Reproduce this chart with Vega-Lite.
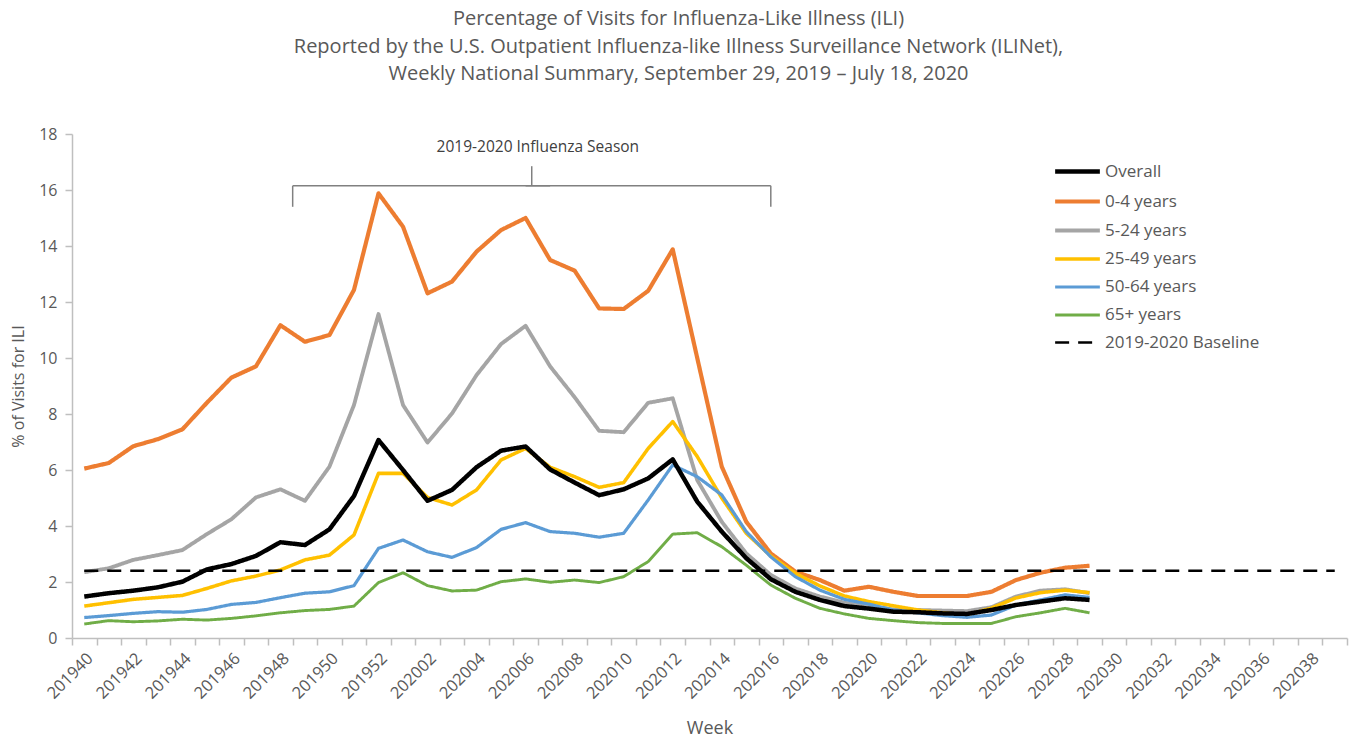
{
  "$schema": "https://vega.github.io/schema/vega-lite/v6.json",
  "width": 1275,
  "height": 504,
  "autosize": {"type": "none"},
  "padding": {"left": 72, "top": 134, "right": 10, "bottom": 102},
  "background": "white",
  "config": {"view": {"stroke": null}, "font": "Open Sans"},
  "title": {
    "text": ["Percentage of Visits for Influenza-Like Illness (ILI)", "Reported by the U.S. Outpatient Influenza-like Illness Surveillance Network (ILINet),", "Weekly National Summary, September 29, 2019 – July 18, 2020"],
    "fontSize": 20, "fontWeight": "normal", "color": "#595959", "anchor": "middle", "frame": "group", "dx": -31, "offset": 42, "lineHeight": 27.5, "font": "Open Sans"
  },
  "datasets": {
    "ili": [
      {"week":"201940","series":"0-4 years","pct":6.05},{"week":"201941","series":"0-4 years","pct":6.25},{"week":"201942","series":"0-4 years","pct":6.85},{"week":"201943","series":"0-4 years","pct":7.1},{"week":"201944","series":"0-4 years","pct":7.45},{"week":"201945","series":"0-4 years","pct":8.4},{"week":"201946","series":"0-4 years","pct":9.3},{"week":"201947","series":"0-4 years","pct":9.7},{"week":"201948","series":"0-4 years","pct":11.17},{"week":"201949","series":"0-4 years","pct":10.58},{"week":"201950","series":"0-4 years","pct":10.82},{"week":"201951","series":"0-4 years","pct":12.43},{"week":"201952","series":"0-4 years","pct":15.88},{"week":"202001","series":"0-4 years","pct":14.69},{"week":"202002","series":"0-4 years","pct":12.31},{"week":"202003","series":"0-4 years","pct":12.73},{"week":"202004","series":"0-4 years","pct":13.8},{"week":"202005","series":"0-4 years","pct":14.57},{"week":"202006","series":"0-4 years","pct":15.0},{"week":"202007","series":"0-4 years","pct":13.5},{"week":"202008","series":"0-4 years","pct":13.12},{"week":"202009","series":"0-4 years","pct":11.77},{"week":"202010","series":"0-4 years","pct":11.75},{"week":"202011","series":"0-4 years","pct":12.4},{"week":"202012","series":"0-4 years","pct":13.88},{"week":"202013","series":"0-4 years","pct":10.0},{"week":"202014","series":"0-4 years","pct":6.12},{"week":"202015","series":"0-4 years","pct":4.15},{"week":"202016","series":"0-4 years","pct":3.02},{"week":"202017","series":"0-4 years","pct":2.37},{"week":"202018","series":"0-4 years","pct":2.07},{"week":"202019","series":"0-4 years","pct":1.69},{"week":"202020","series":"0-4 years","pct":1.83},{"week":"202021","series":"0-4 years","pct":1.65},{"week":"202022","series":"0-4 years","pct":1.5},{"week":"202023","series":"0-4 years","pct":1.5},{"week":"202024","series":"0-4 years","pct":1.5},{"week":"202025","series":"0-4 years","pct":1.65},{"week":"202026","series":"0-4 years","pct":2.07},{"week":"202027","series":"0-4 years","pct":2.33},{"week":"202028","series":"0-4 years","pct":2.51},{"week":"202029","series":"0-4 years","pct":2.58},
      {"week":"201940","series":"5-24 years","pct":2.35},{"week":"201941","series":"5-24 years","pct":2.49},{"week":"201942","series":"5-24 years","pct":2.79},{"week":"201943","series":"5-24 years","pct":2.96},{"week":"201944","series":"5-24 years","pct":3.14},{"week":"201945","series":"5-24 years","pct":3.71},{"week":"201946","series":"5-24 years","pct":4.24},{"week":"201947","series":"5-24 years","pct":5.02},{"week":"201948","series":"5-24 years","pct":5.31},{"week":"201949","series":"5-24 years","pct":4.9},{"week":"201950","series":"5-24 years","pct":6.12},{"week":"201951","series":"5-24 years","pct":8.32},{"week":"201952","series":"5-24 years","pct":11.57},{"week":"202001","series":"5-24 years","pct":8.32},{"week":"202002","series":"5-24 years","pct":6.98},{"week":"202003","series":"5-24 years","pct":8.02},{"week":"202004","series":"5-24 years","pct":9.39},{"week":"202005","series":"5-24 years","pct":10.5},{"week":"202006","series":"5-24 years","pct":11.15},{"week":"202007","series":"5-24 years","pct":9.7},{"week":"202008","series":"5-24 years","pct":8.6},{"week":"202009","series":"5-24 years","pct":7.4},{"week":"202010","series":"5-24 years","pct":7.35},{"week":"202011","series":"5-24 years","pct":8.4},{"week":"202012","series":"5-24 years","pct":8.56},{"week":"202013","series":"5-24 years","pct":5.64},{"week":"202014","series":"5-24 years","pct":4.15},{"week":"202015","series":"5-24 years","pct":3.02},{"week":"202016","series":"5-24 years","pct":2.25},{"week":"202017","series":"5-24 years","pct":1.77},{"week":"202018","series":"5-24 years","pct":1.48},{"week":"202019","series":"5-24 years","pct":1.26},{"week":"202020","series":"5-24 years","pct":1.12},{"week":"202021","series":"5-24 years","pct":1.02},{"week":"202022","series":"5-24 years","pct":1.0},{"week":"202023","series":"5-24 years","pct":0.98},{"week":"202024","series":"5-24 years","pct":0.96},{"week":"202025","series":"5-24 years","pct":1.1},{"week":"202026","series":"5-24 years","pct":1.48},{"week":"202027","series":"5-24 years","pct":1.69},{"week":"202028","series":"5-24 years","pct":1.74},{"week":"202029","series":"5-24 years","pct":1.6},
      {"week":"201940","series":"25-49 years","pct":1.14},{"week":"201941","series":"25-49 years","pct":1.26},{"week":"201942","series":"25-49 years","pct":1.38},{"week":"201943","series":"25-49 years","pct":1.45},{"week":"201944","series":"25-49 years","pct":1.52},{"week":"201945","series":"25-49 years","pct":1.77},{"week":"201946","series":"25-49 years","pct":2.04},{"week":"201947","series":"25-49 years","pct":2.21},{"week":"201948","series":"25-49 years","pct":2.43},{"week":"201949","series":"25-49 years","pct":2.79},{"week":"201950","series":"25-49 years","pct":2.96},{"week":"201951","series":"25-49 years","pct":3.68},{"week":"201952","series":"25-49 years","pct":5.88},{"week":"202001","series":"25-49 years","pct":5.88},{"week":"202002","series":"25-49 years","pct":5.02},{"week":"202003","series":"25-49 years","pct":4.75},{"week":"202004","series":"25-49 years","pct":5.29},{"week":"202005","series":"25-49 years","pct":6.36},{"week":"202006","series":"25-49 years","pct":6.77},{"week":"202007","series":"25-49 years","pct":6.1},{"week":"202008","series":"25-49 years","pct":5.76},{"week":"202009","series":"25-49 years","pct":5.38},{"week":"202010","series":"25-49 years","pct":5.55},{"week":"202011","series":"25-49 years","pct":6.77},{"week":"202012","series":"25-49 years","pct":7.73},{"week":"202013","series":"25-49 years","pct":6.48},{"week":"202014","series":"25-49 years","pct":5.0},{"week":"202015","series":"25-49 years","pct":3.74},{"week":"202016","series":"25-49 years","pct":2.93},{"week":"202017","series":"25-49 years","pct":2.31},{"week":"202018","series":"25-49 years","pct":1.86},{"week":"202019","series":"25-49 years","pct":1.5},{"week":"202020","series":"25-49 years","pct":1.3},{"week":"202021","series":"25-49 years","pct":1.15},{"week":"202022","series":"25-49 years","pct":1.0},{"week":"202023","series":"25-49 years","pct":0.9},{"week":"202024","series":"25-49 years","pct":0.82},{"week":"202025","series":"25-49 years","pct":1.07},{"week":"202026","series":"25-49 years","pct":1.43},{"week":"202027","series":"25-49 years","pct":1.62},{"week":"202028","series":"25-49 years","pct":1.71},{"week":"202029","series":"25-49 years","pct":1.62},
      {"week":"201940","series":"50-64 years","pct":0.73},{"week":"201941","series":"50-64 years","pct":0.8},{"week":"201942","series":"50-64 years","pct":0.88},{"week":"201943","series":"50-64 years","pct":0.94},{"week":"201944","series":"50-64 years","pct":0.92},{"week":"201945","series":"50-64 years","pct":1.02},{"week":"201946","series":"50-64 years","pct":1.2},{"week":"201947","series":"50-64 years","pct":1.27},{"week":"201948","series":"50-64 years","pct":1.44},{"week":"201949","series":"50-64 years","pct":1.6},{"week":"201950","series":"50-64 years","pct":1.65},{"week":"201951","series":"50-64 years","pct":1.87},{"week":"201952","series":"50-64 years","pct":3.2},{"week":"202001","series":"50-64 years","pct":3.5},{"week":"202002","series":"50-64 years","pct":3.08},{"week":"202003","series":"50-64 years","pct":2.88},{"week":"202004","series":"50-64 years","pct":3.23},{"week":"202005","series":"50-64 years","pct":3.88},{"week":"202006","series":"50-64 years","pct":4.12},{"week":"202007","series":"50-64 years","pct":3.8},{"week":"202008","series":"50-64 years","pct":3.74},{"week":"202009","series":"50-64 years","pct":3.6},{"week":"202010","series":"50-64 years","pct":3.74},{"week":"202011","series":"50-64 years","pct":4.93},{"week":"202012","series":"50-64 years","pct":6.18},{"week":"202013","series":"50-64 years","pct":5.76},{"week":"202014","series":"50-64 years","pct":5.11},{"week":"202015","series":"50-64 years","pct":3.8},{"week":"202016","series":"50-64 years","pct":2.9},{"week":"202017","series":"50-64 years","pct":2.19},{"week":"202018","series":"50-64 years","pct":1.71},{"week":"202019","series":"50-64 years","pct":1.38},{"week":"202020","series":"50-64 years","pct":1.21},{"week":"202021","series":"50-64 years","pct":1.0},{"week":"202022","series":"50-64 years","pct":0.9},{"week":"202023","series":"50-64 years","pct":0.8},{"week":"202024","series":"50-64 years","pct":0.74},{"week":"202025","series":"50-64 years","pct":0.82},{"week":"202026","series":"50-64 years","pct":1.18},{"week":"202027","series":"50-64 years","pct":1.36},{"week":"202028","series":"50-64 years","pct":1.54},{"week":"202029","series":"50-64 years","pct":1.45},
      {"week":"201940","series":"65+ years","pct":0.5},{"week":"201941","series":"65+ years","pct":0.62},{"week":"201942","series":"65+ years","pct":0.58},{"week":"201943","series":"65+ years","pct":0.61},{"week":"201944","series":"65+ years","pct":0.67},{"week":"201945","series":"65+ years","pct":0.64},{"week":"201946","series":"65+ years","pct":0.7},{"week":"201947","series":"65+ years","pct":0.79},{"week":"201948","series":"65+ years","pct":0.9},{"week":"201949","series":"65+ years","pct":0.98},{"week":"201950","series":"65+ years","pct":1.02},{"week":"201951","series":"65+ years","pct":1.14},{"week":"201952","series":"65+ years","pct":1.98},{"week":"202001","series":"65+ years","pct":2.33},{"week":"202002","series":"65+ years","pct":1.87},{"week":"202003","series":"65+ years","pct":1.68},{"week":"202004","series":"65+ years","pct":1.71},{"week":"202005","series":"65+ years","pct":2.01},{"week":"202006","series":"65+ years","pct":2.11},{"week":"202007","series":"65+ years","pct":1.99},{"week":"202008","series":"65+ years","pct":2.07},{"week":"202009","series":"65+ years","pct":1.98},{"week":"202010","series":"65+ years","pct":2.19},{"week":"202011","series":"65+ years","pct":2.73},{"week":"202012","series":"65+ years","pct":3.71},{"week":"202013","series":"65+ years","pct":3.76},{"week":"202014","series":"65+ years","pct":3.26},{"week":"202015","series":"65+ years","pct":2.6},{"week":"202016","series":"65+ years","pct":1.89},{"week":"202017","series":"65+ years","pct":1.42},{"week":"202018","series":"65+ years","pct":1.06},{"week":"202019","series":"65+ years","pct":0.86},{"week":"202020","series":"65+ years","pct":0.7},{"week":"202021","series":"65+ years","pct":0.62},{"week":"202022","series":"65+ years","pct":0.55},{"week":"202023","series":"65+ years","pct":0.52},{"week":"202024","series":"65+ years","pct":0.52},{"week":"202025","series":"65+ years","pct":0.52},{"week":"202026","series":"65+ years","pct":0.76},{"week":"202027","series":"65+ years","pct":0.9},{"week":"202028","series":"65+ years","pct":1.06},{"week":"202029","series":"65+ years","pct":0.9},
      {"week":"201940","series":"Overall","pct":1.48},{"week":"201941","series":"Overall","pct":1.6},{"week":"201942","series":"Overall","pct":1.69},{"week":"201943","series":"Overall","pct":1.81},{"week":"201944","series":"Overall","pct":2.01},{"week":"201945","series":"Overall","pct":2.45},{"week":"201946","series":"Overall","pct":2.64},{"week":"201947","series":"Overall","pct":2.93},{"week":"201948","series":"Overall","pct":3.42},{"week":"201949","series":"Overall","pct":3.32},{"week":"201950","series":"Overall","pct":3.88},{"week":"201951","series":"Overall","pct":5.07},{"week":"201952","series":"Overall","pct":7.07},{"week":"202001","series":"Overall","pct":6.0},{"week":"202002","series":"Overall","pct":4.9},{"week":"202003","series":"Overall","pct":5.29},{"week":"202004","series":"Overall","pct":6.1},{"week":"202005","series":"Overall","pct":6.69},{"week":"202006","series":"Overall","pct":6.84},{"week":"202007","series":"Overall","pct":6.02},{"week":"202008","series":"Overall","pct":5.55},{"week":"202009","series":"Overall","pct":5.1},{"week":"202010","series":"Overall","pct":5.31},{"week":"202011","series":"Overall","pct":5.7},{"week":"202012","series":"Overall","pct":6.38},{"week":"202013","series":"Overall","pct":4.87},{"week":"202014","series":"Overall","pct":3.8},{"week":"202015","series":"Overall","pct":2.85},{"week":"202016","series":"Overall","pct":2.1},{"week":"202017","series":"Overall","pct":1.65},{"week":"202018","series":"Overall","pct":1.36},{"week":"202019","series":"Overall","pct":1.14},{"week":"202020","series":"Overall","pct":1.05},{"week":"202021","series":"Overall","pct":0.94},{"week":"202022","series":"Overall","pct":0.92},{"week":"202023","series":"Overall","pct":0.88},{"week":"202024","series":"Overall","pct":0.86},{"week":"202025","series":"Overall","pct":1.0},{"week":"202026","series":"Overall","pct":1.18},{"week":"202027","series":"Overall","pct":1.3},{"week":"202028","series":"Overall","pct":1.42},{"week":"202029","series":"Overall","pct":1.36},
      {"week":"201940","series":"2019-2020 Baseline","pct":2.4},{"week":"202039","series":"2019-2020 Baseline","pct":2.4}
    ]
  },
  "layer": [
    {
      "data": {"name": "ili"},
      "mark": {"type": "line", "strokeJoin": "round", "strokeCap": "butt"},
      "encoding": {
        "x": {
          "field": "week", "type": "ordinal", "bandPosition": 0.5, "title": "Week",
          "scale": {"type": "band", "paddingInner": 0, "paddingOuter": 0, "domain": ["201940","201941","201942","201943","201944","201945","201946","201947","201948","201949","201950","201951","201952","202001","202002","202003","202004","202005","202006","202007","202008","202009","202010","202011","202012","202013","202014","202015","202016","202017","202018","202019","202020","202021","202022","202023","202024","202025","202026","202027","202028","202029","202030","202031","202032","202033","202034","202035","202036","202037","202038","202039"]},
          "axis": {"title": "Week", "tickBand": "extent", "labelAngle": -45, "labelOverlap": false, "labelExpr": "toNumber(datum.value) % 2 == 0 ? datum.label : ''", "labelFontSize": 16.5, "labelColor": "#595959", "titleFontSize": 18, "titleColor": "#595959", "titleFontWeight": "normal", "domainColor": "#bfbfbf", "tickColor": "#bfbfbf", "domainWidth": 1.5, "tickWidth": 1.5, "tickSize": 7, "labelPadding": 5, "titlePadding": 18}
        },
        "y": {
          "field": "pct", "type": "quantitative", "title": "% of Visits for ILI",
          "scale": {"domain": [0, 18], "nice": false},
          "axis": {"title": "% of Visits for ILI", "values": [0,2,4,6,8,10,12,14,16,18], "grid": false, "labelFontSize": 16, "labelColor": "#595959", "titleFontSize": 16, "titleColor": "#595959", "titleFontWeight": "normal", "domainColor": "#bfbfbf", "tickColor": "#bfbfbf", "domainWidth": 1.5, "tickWidth": 1.5, "tickSize": 7, "labelPadding": 8, "titlePadding": 12}
        },
        "color": {
          "field": "series", "type": "nominal",
          "scale": {"domain": ["Overall","0-4 years","5-24 years","25-49 years","50-64 years","65+ years","2019-2020 Baseline"], "range": ["#000000","#ED7D31","#A5A5A5","#FFC000","#5B9BD5","#70AD47","#000000"]},
          "legend": {"title": null, "orient": "none", "legendX": 992, "legendY": 24, "symbolType": "M-2,0H2", "symbolSize": 500, "labelFontSize": 17, "labelColor": "#595959", "rowPadding": 7, "labelOffset": 14}
        },
        "strokeDash": {
          "field": "series", "type": "nominal",
          "scale": {"domain": ["Overall","0-4 years","5-24 years","25-49 years","50-64 years","65+ years","2019-2020 Baseline"], "range": [[1,0],[1,0],[1,0],[1,0],[1,0],[1,0],[14,9]]}
        },
        "strokeWidth": {
          "field": "series", "type": "nominal",
          "scale": {"domain": ["Overall","0-4 years","5-24 years","25-49 years","50-64 years","65+ years","2019-2020 Baseline"], "range": [4.5,2.6,2.6,2.6,2.6,2.6,3]}
        }
      }
    },
    {
      "data": {"values": [{"from": "201949", "to": "202007", "level": 16.15}]},
      "mark": {"type": "rule", "color": "#808080", "strokeWidth": 1.5},
      "encoding": {
        "x": {"field": "from", "type": "ordinal", "bandPosition": 0, "title": "Week"},
        "x2": {"field": "to"},
        "y": {"field": "level", "type": "quantitative", "title": "% of Visits for ILI"}
      }
    },
    {
      "data": {"values": [{"from": "202006", "to": "202016", "level": 16.15}]},
      "mark": {"type": "rule", "color": "#808080", "strokeWidth": 1.5},
      "encoding": {
        "x": {"field": "from", "type": "ordinal", "bandPosition": 0.5, "title": "Week"},
        "x2": {"field": "to"},
        "y": {"field": "level", "type": "quantitative", "title": "% of Visits for ILI"}
      }
    },
    {
      "data": {"values": [{"at": "201949", "top": 16.15, "bottom": 15.4}]},
      "mark": {"type": "rule", "color": "#808080", "strokeWidth": 1.5},
      "encoding": {
        "x": {"field": "at", "type": "ordinal", "bandPosition": 0, "title": "Week"},
        "y": {"field": "top", "type": "quantitative", "title": "% of Visits for ILI"},
        "y2": {"field": "bottom"}
      }
    },
    {
      "data": {"values": [{"at": "202016", "top": 16.15, "bottom": 15.4}]},
      "mark": {"type": "rule", "color": "#808080", "strokeWidth": 1.5},
      "encoding": {
        "x": {"field": "at", "type": "ordinal", "bandPosition": 0.5, "title": "Week"},
        "y": {"field": "top", "type": "quantitative", "title": "% of Visits for ILI"},
        "y2": {"field": "bottom"}
      }
    },
    {
      "data": {"values": [{"at": "202006", "top": 16.85, "bottom": 16.15}]},
      "mark": {"type": "rule", "color": "#808080", "strokeWidth": 1.5},
      "encoding": {
        "x": {"field": "at", "type": "ordinal", "bandPosition": 0.75, "title": "Week"},
        "y": {"field": "top", "type": "quantitative", "title": "% of Visits for ILI"},
        "y2": {"field": "bottom"}
      }
    },
    {
      "data": {"values": [{"at": "202006", "level": 17.55, "label": "2019-2020 Influenza Season"}]},
      "mark": {"type": "text", "fontSize": 15.5, "color": "#404040", "align": "center", "baseline": "middle", "font": "Open Sans"},
      "encoding": {
        "x": {"field": "at", "type": "ordinal", "bandPosition": 1, "title": "Week"},
        "y": {"field": "level", "type": "quantitative", "title": "% of Visits for ILI"},
        "text": {"field": "label"}
      }
    }
  ]
}
